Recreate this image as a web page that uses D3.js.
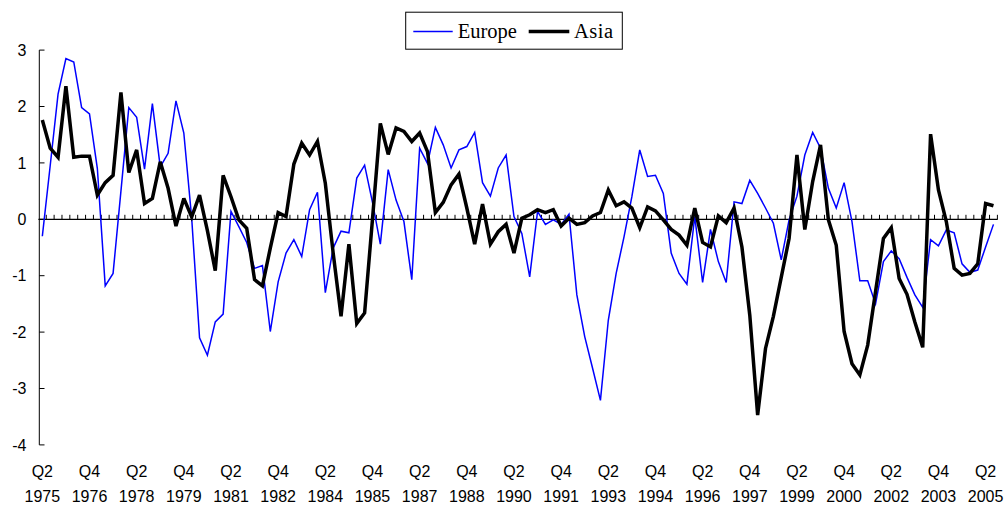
<!DOCTYPE html>
<html>
<head>
<meta charset="utf-8">
<script src="https://cdn.jsdelivr.net/npm/d3@7"></script>
<style>
html,body{margin:0;padding:0;background:#fff;}
svg{display:block;}
</style>
</head>
<body>
<svg id="chart" width="1006" height="505"></svg>
<script>
// ---- data ----
const startYear = 1975, startQuarter = 2, nQuarters = 122;
const categories = [];
for (let k = 0; k < nQuarters; k++) {
  const q = (startQuarter - 1 + k) % 4 + 1;
  const y = startYear + Math.floor((startQuarter - 1 + k) / 4);
  categories.push("Q" + q + " " + y);
}
const europe = [
 -0.30, 0.95, 2.22, 2.85, 2.79, 1.98, 1.87, 0.90, -1.18, -0.96,
  0.50, 1.98, 1.81, 0.89, 2.05, 0.93, 1.17, 2.10, 1.53, 0.02,
 -2.10, -2.41, -1.82, -1.68, 0.14, -0.13, -0.41, -0.87, -0.82, -1.99,
 -1.11, -0.60, -0.36, -0.66, 0.17, 0.48, -1.30, -0.51, -0.21, -0.24,
  0.73, 0.96, 0.30, -0.44, 0.88, 0.34, -0.04, -1.07, 1.26, 0.99,
  1.63, 1.32, 0.91, 1.23, 1.29, 1.54, 0.65, 0.41, 0.91, 1.14,
  0.05, -0.25, -1.02, 0.14, -0.09, -0.01, -0.09, 0.09, -1.34, -2.08,
 -2.64, -3.21, -1.79, -0.96, -0.31, 0.40, 1.23, 0.76, 0.78, 0.46,
 -0.60, -0.96, -1.15, 0.05, -1.12, -0.18, -0.75, -1.12, 0.31, 0.28,
  0.69, 0.46, 0.20, -0.07, -0.72, -0.01, 0.41, 1.14, 1.54, 1.26,
  0.55, 0.20, 0.65, -0.04, -1.09, -1.09, -1.50, -0.75, -0.56, -0.70,
 -1.03, -1.34, -1.56, -0.36, -0.47, -0.19, -0.24, -0.79, -0.94, -0.90,
 -0.49, -0.09
];
const asia = [
  1.76, 1.26, 1.10, 2.36, 1.10, 1.12, 1.12, 0.43, 0.65, 0.78,
  2.25, 0.83, 1.23, 0.28, 0.37, 1.02, 0.55, -0.12, 0.37, 0.04,
  0.43, -0.20, -0.91, 0.78, 0.40, -0.01, -0.16, -1.07, -1.18, -0.51,
  0.12, 0.05, 0.98, 1.35, 1.14, 1.38, 0.64, -0.60, -1.72, -0.44,
 -1.85, -1.66, 0.00, 1.70, 1.15, 1.62, 1.56, 1.38, 1.53, 1.20,
  0.12, 0.30, 0.61, 0.80, 0.20, -0.44, 0.27, -0.44, -0.22, -0.09,
 -0.60, 0.02, 0.08, 0.17, 0.12, 0.17, -0.12, 0.02, -0.09, -0.06,
  0.06, 0.12, 0.52, 0.24, 0.31, 0.20, -0.15, 0.22, 0.15, -0.01,
 -0.18, -0.28, -0.46, 0.20, -0.41, -0.49, 0.06, -0.06, 0.20, -0.49,
 -1.70, -3.47, -2.29, -1.72, -1.03, -0.34, 1.14, -0.18, 0.67, 1.32,
 -0.01, -0.46, -1.99, -2.56, -2.76, -2.23, -1.28, -0.34, -0.15, -1.05,
 -1.33, -1.82, -2.27, 1.51, 0.52, -0.04, -0.87, -0.99, -0.96, -0.79,
  0.28, 0.24
];
const tickLabels = [
 "Q2 1975","Q4 1976","Q2 1978","Q4 1979","Q2 1981","Q4 1982","Q2 1984",
 "Q4 1985","Q2 1987","Q4 1988","Q2 1990","Q4 1991","Q2 1993","Q4 1994",
 "Q2 1996","Q4 1997","Q2 1999","Q4 2000","Q2 2002","Q4 2003","Q2 2005"
];
const yTicks = [3, 2, 1, 0, -1, -2, -3, -4];
const seriesNames = ["Europe", "Asia"];

// ---- layout ----
const svg = d3.select("#chart");
const x = d3.scaleBand().domain(categories).range([38.4, 997.4]).paddingInner(0).paddingOuter(0);
const y = d3.scaleLinear().domain([-4, 3]).range([444.9, 50.1]);
const cx = d => x(d) + x.bandwidth() / 2;

// y axis line
svg.append("line").attr("x1", 39.3).attr("x2", 39.3).attr("y1", y(3)).attr("y2", y(-4))
  .attr("stroke", "#000").attr("stroke-width", 1);
// y ticks (inside) & labels
const yg = svg.append("g");
yTicks.forEach(t => {
  yg.append("line").attr("x1", 39.3).attr("x2", 44.5).attr("y1", y(t)).attr("y2", y(t))
    .attr("stroke", "#000").attr("stroke-width", 1);
  yg.append("text").attr("x", 26.5).attr("y", y(t)).attr("dy", "0.36em")
    .attr("text-anchor", "end").attr("font-family", "Liberation Sans, Arial, sans-serif")
    .attr("font-size", 16).attr("fill", "#000").text(t);
});

// x axis at zero with ticks between categories
const y0 = y(0);
svg.append("line").attr("x1", 38.4).attr("x2", 997.7).attr("y1", y0).attr("y2", y0)
  .attr("stroke", "#000").attr("stroke-width", 1.2);
const bounds = categories.map(c => x(c)).concat([x(categories[categories.length - 1]) + x.bandwidth()]);
svg.append("g").selectAll("line").data(bounds.slice(1)).join("line")
  .attr("x1", d => d).attr("x2", d => d).attr("y1", y0).attr("y2", y0 - 4.5)
  .attr("stroke", "#000").attr("stroke-width", 1);

// x labels
const xl = svg.append("g").attr("font-family", "Liberation Sans, Arial, sans-serif")
  .attr("font-size", 16).attr("fill", "#000").attr("text-anchor", "middle");
tickLabels.forEach(lbl => {
  const [q, yr] = lbl.split(" ");
  const px = cx(lbl);
  xl.append("text").attr("x", px).attr("y", 477).text(q);
  xl.append("text").attr("x", px).attr("y", 502).text(yr);
});

// lines
const line = d3.line().x((d, i) => cx(categories[i])).y(d => y(d));
svg.append("path").datum(europe).attr("d", line).attr("fill", "none")
  .attr("stroke", "#0000FF").attr("stroke-width", 1.5).attr("stroke-linejoin", "miter");
svg.append("path").datum(asia).attr("d", line).attr("fill", "none")
  .attr("stroke", "#000").attr("stroke-width", 3.5).attr("stroke-linejoin", "miter")
  .attr("stroke-miterlimit", 3);

// legend
const lg = svg.append("g");
lg.append("rect").attr("x", 405.7).attr("y", 12.2).attr("width", 216.6).attr("height", 37)
  .attr("fill", "#fff").attr("stroke", "#000").attr("stroke-width", 1);
lg.append("line").attr("x1", 413.3).attr("x2", 452.7).attr("y1", 31.5).attr("y2", 31.5)
  .attr("stroke", "#0000FF").attr("stroke-width", 1.5);
lg.append("text").attr("x", 457.7).attr("y", 37.5).attr("font-family", "Liberation Serif, Times New Roman, serif")
  .attr("font-size", 20.5).attr("fill", "#000").text(seriesNames[0]);
lg.append("line").attr("x1", 528.7).attr("x2", 569.3).attr("y1", 31.5).attr("y2", 31.5)
  .attr("stroke", "#000").attr("stroke-width", 3.5);
lg.append("text").attr("x", 574).attr("y", 37.5).attr("font-family", "Liberation Serif, Times New Roman, serif")
  .attr("font-size", 20.5).attr("letter-spacing", 0.5).attr("fill", "#000").text(seriesNames[1]);
</script>
</body>
</html>
